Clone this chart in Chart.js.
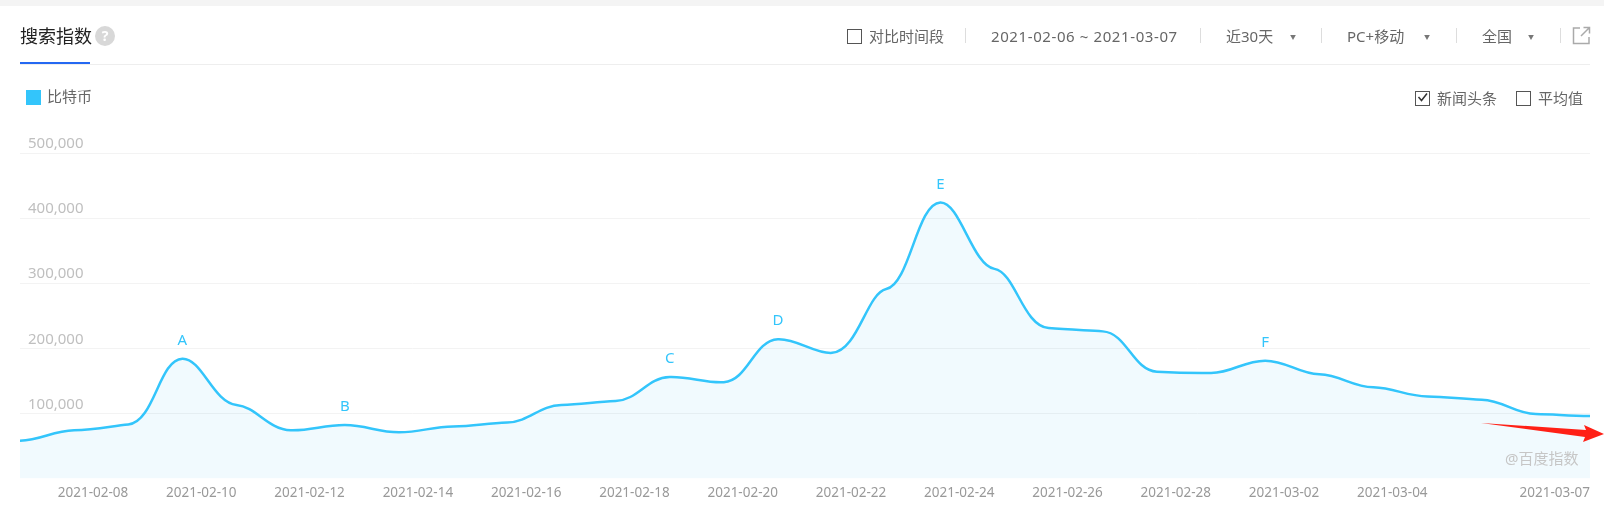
<!DOCTYPE html>
<html lang="zh">
<head>
<meta charset="UTF-8">
<title>搜索指数</title>
<script src="https://cdn.jsdelivr.net/npm/chart.js"></script>
<style>
    html, body { margin: 0; padding: 0; background: #fff; }
    body { width: 1604px; height: 510px; position: relative; overflow: hidden;
           font-family: "Noto Sans", "Noto Sans CJK SC", sans-serif; color: #666; font-size: 15px; }
    #chartBox { position: absolute; left: 0; top: 0; width: 1604px; height: 510px; }
    .top-strip { position: absolute; left: 0; top: 0; width: 1604px; height: 6px; background: #f4f4f4; }
    .rule { position: absolute; left: 20px; top: 64px; width: 1570px; height: 1px; background: #eee; }
    .tab-line { position: absolute; left: 20px; top: 62px; width: 70px; height: 2px; background: #2468f2; }
    .t { position: absolute; line-height: 20px; white-space: nowrap; }
    .title { left: 20px; top: 24px; font-size: 18px; line-height: 24px; color: #222; }
    .help { position: absolute; left: 95px; top: 26px; width: 20px; height: 20px; border-radius: 50%;
            background: #d8d8d8; color: #fff; font-size: 14px; font-weight: 700; line-height: 20px; text-align: center; }
    .box { position: absolute; width: 13px; height: 13px; border: 1px solid #555; background: #fff; }
    .sep { position: absolute; top: 28px; width: 1px; height: 15px; background: #ddd; }
    .arrow { position: absolute; font-size: 6px; line-height: 10px; color: #777; }
    .swatch { position: absolute; left: 26px; top: 90px; width: 15px; height: 15px; background: #33c5fb; }
    .mark { position: absolute; left: 0; top: 0; pointer-events: none; }
</style>
</head>
<body>
<div class="top-strip"></div>
<div id="chartBox"><canvas id="indexChart" width="1604" height="510"></canvas></div>
<div class="rule"></div>
<div class="tab-line"></div>
<div class="t title">搜索指数</div>
<div class="help">?</div>

<div class="box" style="left:847px;top:29px"></div>
<div class="t" style="left:869px;top:26px">对比时间段</div>
<div class="sep" style="left:965px"></div>
<div class="t" style="left:991px;top:26px;letter-spacing:0.6px">2021-02-06 ~ 2021-03-07</div>
<div class="sep" style="left:1200px"></div>
<div class="t" style="left:1226px;top:26px">近30天</div>
<div class="arrow" style="left:1290px;top:32px">▼</div>
<div class="sep" style="left:1321px"></div>
<div class="t" style="left:1347px;top:26px">PC+移动</div>
<div class="arrow" style="left:1424px;top:32px">▼</div>
<div class="sep" style="left:1456px"></div>
<div class="t" style="left:1482px;top:26px">全国</div>
<div class="arrow" style="left:1528px;top:32px">▼</div>
<div class="sep" style="left:1560px"></div>
<svg class="mark" width="1604" height="510">
    <path d="M1580 28 H1573.5 V43.5 H1589 V37" fill="none" stroke="#aaa" stroke-width="1.5"/>
    <path d="M1581 36 L1589 28 M1583.5 27.5 H1589.5 V33.5" fill="none" stroke="#aaa" stroke-width="1.5"/>
    <path d="M1418.5 97 L1421.5 100.5 L1427 93.5" fill="none" stroke="#333" stroke-width="1.5"/>
    <path d="M1481 423 L1586 430 L1584 425 L1604 434 L1583 442 L1585 437 Z" fill="#ff2016"/>
</svg>

<div class="swatch"></div>
<div class="t" style="left:47px;top:86px">比特币</div>
<div class="box" style="left:1415px;top:91px;background:transparent"></div>
<div class="t" style="left:1437px;top:88px">新闻头条</div>
<div class="box" style="left:1516px;top:91px"></div>
<div class="t" style="left:1538px;top:88px">平均值</div>
<div class="t" style="left:1505px;top:448px;font-size:15px;color:#c6c6c6">@百度指数</div>

<script>
    const dates = ['2021-02-06','2021-02-07','2021-02-08','2021-02-09','2021-02-10','2021-02-11','2021-02-12','2021-02-13',
        '2021-02-14','2021-02-15','2021-02-16','2021-02-17','2021-02-18','2021-02-19','2021-02-20','2021-02-21',
        '2021-02-22','2021-02-23','2021-02-24','2021-02-25','2021-02-26','2021-02-27','2021-02-28','2021-03-01',
        '2021-03-02','2021-03-03','2021-03-04','2021-03-05','2021-03-06','2021-03-07'];
    const searchIndex = [58000,74000,83000,184000,113000,74000,82000,71000,80000,86000,113000,119000,156000,148000,214000,
        193000,291000,424000,322000,231000,226000,164000,162000,181000,160000,140000,126000,121000,99000,96000];
    const shownDates = ['2021-02-08','2021-02-10','2021-02-12','2021-02-14','2021-02-16','2021-02-18','2021-02-20',
        '2021-02-22','2021-02-24','2021-02-26','2021-02-28','2021-03-02','2021-03-04','2021-03-07'];
    const newsLetters = ['A','B','C','D','E','F'];
    const newsDates = ['2021-02-09','2021-02-12','2021-02-18','2021-02-20','2021-02-23','2021-03-01'];

    const lineBlue = '#33c5fb';
    const font = '"Noto Sans", "Noto Sans CJK SC", sans-serif';

    // the baidu curve sits almost flat at every day, so squash the bezier handles
    const flatCurve = {
        id: 'flatCurve',
        beforeDatasetsDraw(chart) {
            const meta = chart.getDatasetMeta(0);
            meta.dataset.updateControlPoints(chart.chartArea);
            meta.data.forEach(p => {
                p.cp1y = p.y + (p.cp1y - p.y) * 0.15;
                p.cp2y = p.y + (p.cp2y - p.y) * 0.15;
            });
        }
    };

    // letters over the news days
    const newsMarks = {
        id: 'newsMarks',
        afterDatasetsDraw(chart) {
            const ctx = chart.ctx;
            const points = chart.getDatasetMeta(0).data;
            ctx.save();
            ctx.fillStyle = lineBlue;
            ctx.font = '15px ' + font;
            ctx.textAlign = 'center';
            ctx.textBaseline = 'middle';
            newsLetters.forEach((letter, i) => {
                const p = points[dates.indexOf(newsDates[i])];
                ctx.fillText(letter, p.x, p.y - 18);
            });
            ctx.restore();
        }
    };

    new Chart(document.getElementById('indexChart'), {
        type: 'line',
        data: {
            labels: dates,
            datasets: [{
                label: '比特币',
                data: searchIndex,
                borderColor: lineBlue,
                borderWidth: 2.5,
                backgroundColor: 'rgba(51, 190, 235, 0.07)',
                fill: 'origin',
                pointRadius: 0,
                tension: 0.4
            }]
        },
        options: {
            responsive: false,
            animation: false,
            layout: { padding: { left: 20, right: 14, top: 153 } },
            plugins: { legend: { display: false }, tooltip: { enabled: false } },
            scales: {
                x: {
                    afterFit(axis) { axis.height = 31.5; },
                    grid: { display: false },
                    border: { display: false },
                    ticks: {
                        autoSkip: false,
                        maxRotation: 0,
                        align: 'end',
                        padding: -1,
                        color: '#999',
                        font: { family: font, size: 13.5 },
                        callback(value) {
                            const d = dates[value];
                            return shownDates.includes(d) ? d : '';
                        }
                    }
                },
                y: {
                    min: 0,
                    max: 500000,
                    afterFit(axis) { axis.width = 0; },
                    border: { display: false },
                    grid: { color: ctx => ctx.tick.value === 0 ? 'transparent' : '#f3f3f3', drawTicks: false },
                    ticks: {
                        mirror: true,
                        padding: 8,
                        labelOffset: -9,
                        stepSize: 100000,
                        color: '#bfbfbf',
                        font: { family: font, size: 15 },
                        callback: v => v === 0 ? '' : v.toLocaleString('en-US')
                    }
                }
            }
        },
        plugins: [flatCurve, newsMarks]
    });
</script>
</body>
</html>
